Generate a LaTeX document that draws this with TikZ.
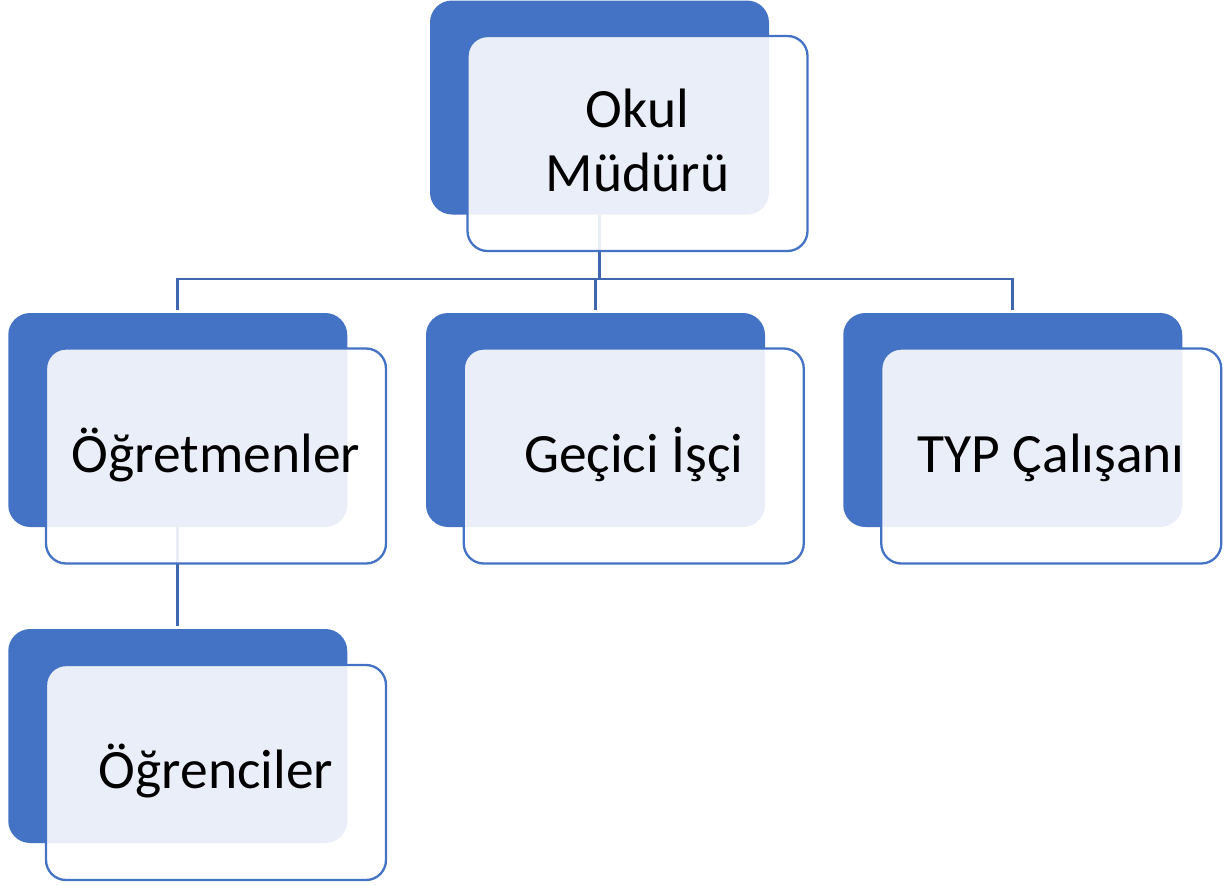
\documentclass[tikz,border=0pt]{standalone}
\usepackage{fontspec}
\setmainfont{Carlito}
\usetikzlibrary{calc}
\definecolor{accblue}{HTML}{4472C4}
\definecolor{connblue}{HTML}{3F67B0}
\begin{document}
\begin{tikzpicture}[x=1pt,y=-1pt,
  backbox/.style={rectangle, rounded corners=22pt, fill=accblue, draw=none,
    minimum width=339pt, minimum height=214pt, inner sep=0pt},
  frontbox/.style={rectangle, rounded corners=20pt, fill=white, fill opacity=0.885,
    draw=accblue, draw opacity=1, line width=2.3pt,
    minimum width=340pt, minimum height=215pt, inner sep=0pt},
  conn/.style={draw=connblue, line width=2.7pt},
  lbl/.style={font=\fontsize{55.5}{63.5}\selectfont, text=black, inner sep=0pt, align=center}]
\useasboundingbox (0,0) rectangle (1229,886);
% back boxes
\node[backbox] (okulB) at (599.5,107.5) {};
\node[backbox] (ogrB)  at (177.75,420) {};
\node[backbox] (gecB)  at (595.5,420) {};
\node[backbox] (typB)  at (1012.75,420) {};
\node[backbox] (ogrnB) at (177.75,736) {};
% connectors
\coordinate (bus) at (599.5,279);
\draw[conn] (okulB.south) -- (bus);
\draw[conn] ([yshift=3pt]ogrB.north) |- (bus) -| ([yshift=3pt]typB.north);
\draw[conn] ([yshift=3pt]gecB.north) -- (gecB.north |- bus);
\draw[conn] (ogrB.south) -- ([yshift=3pt]ogrnB.north);
% front boxes
\node[frontbox] (okulF) at (637.5,143.5) {};
\node[frontbox] (ogrF)  at (216,456) {};
\node[frontbox] (gecF)  at (633.75,456) {};
\node[frontbox] (typF)  at (1051.25,456) {};
\node[frontbox] (ogrnF) at (216,772.5) {};
% labels
\node[lbl, anchor=south] (okulT) at ($(okulF.center)+(0,48.5)$) {Okul\\Müdürü};
\node[lbl, anchor=base] (ogrT)  at ($(ogrF.center)+(0,16)$) {Öğretmenler};
\node[lbl, anchor=base] (gecT)  at ($(gecF.center)+(0,16)$) {Geçici İşçi};
\node[lbl, anchor=base] (typT)  at ($(typF.center)+(0,16)$) {TYP Çalışanı};
\node[lbl, anchor=base] (ogrnT) at ($(ogrnF.center)+(0,16)$) {Öğrenciler};
\end{tikzpicture}
\end{document}
